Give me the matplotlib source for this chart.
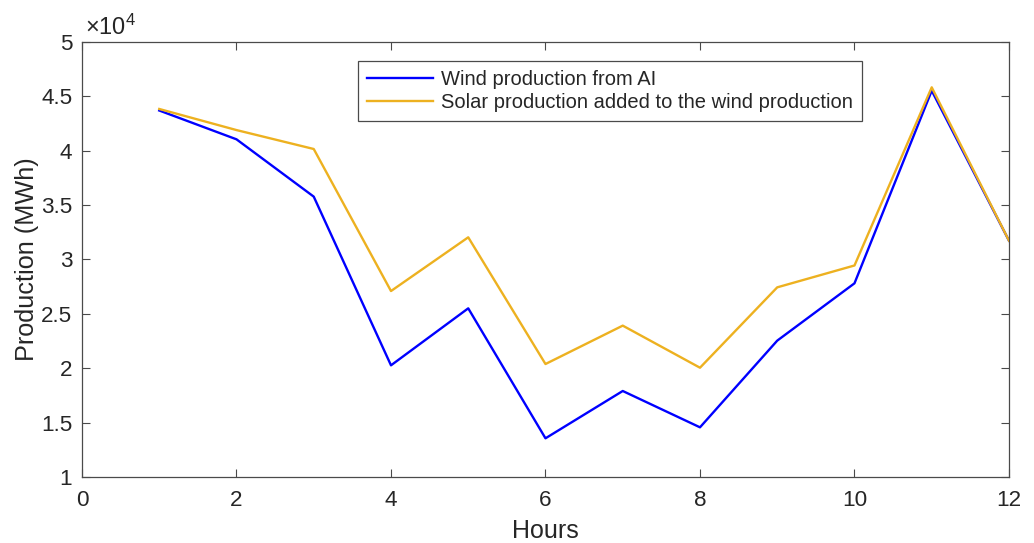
import matplotlib
matplotlib.use("Agg")
import matplotlib.pyplot as plt
from matplotlib.ticker import FuncFormatter, MultipleLocator

plt.rcParams['font.family'] = ['Liberation Sans', 'DejaVu Sans']
plt.rcParams['mathtext.fontset'] = 'custom'
plt.rcParams['mathtext.rm'] = 'Liberation Sans'

hours = [1, 2, 3, 4, 5, 6, 7, 8, 9, 10, 11, 12]
wind = [43700, 41050, 35780, 20270, 25510, 13560, 17910, 14570, 22540, 27810, 45520, 31730]
wind_plus_solar = [43840, 41900, 40160, 27100, 32040, 20390, 23920, 20050, 27440, 29450, 45830, 31730]

labels = ["Wind production from AI", "Solar production added to the wind production"]
x_label = "Hours"
y_label = "Production (MWh)"

axis_grey = "#4a4a4a"
text_grey = "#262626"

fig = plt.figure(figsize=(10.34, 5.43), dpi=100)
ax = fig.add_axes([0.0793, 0.1215, 0.8965, 0.8012])

ax.plot(hours, wind, color=(0, 0, 1), lw=1.7, label=labels[0])
ax.plot(hours, wind_plus_solar, color="#EDB120", lw=1.7, label=labels[1])

ax.set_xlim(0, 12)
ax.set_ylim(1e4, 5e4)
ax.xaxis.set_major_locator(MultipleLocator(2))
ax.yaxis.set_major_locator(MultipleLocator(5000))
ax.yaxis.set_major_formatter(FuncFormatter(lambda v, p: f"{v / 1e4:g}"))

ax.tick_params(direction="in", length=5.8, width=0.8, colors=axis_grey,
               labelcolor=text_grey, labelsize=16.2, top=True, right=True)
ax.tick_params(axis="x", pad=9)
ax.tick_params(axis="y", pad=7)
for s in ax.spines.values():
    s.set_color(axis_grey)
    s.set_linewidth(0.9)

ax.set_xlabel(x_label, fontsize=18, color=text_grey, labelpad=6)
ax.set_ylabel(y_label, fontsize=18.2, color=text_grey, labelpad=1.5)

ax.text(0.003, 1.016, r"$\times\mathregular{10^{4}}$", transform=ax.transAxes,
        fontsize=17, color=text_grey, ha="left", va="baseline")

leg = ax.legend(loc="upper left", bbox_to_anchor=(0.2974, 0.9563), fontsize=14.5,
                frameon=True, fancybox=False, framealpha=1, edgecolor=axis_grey,
                handlelength=3.3, handletextpad=0.4, borderpad=0.45,
                labelspacing=0.18, borderaxespad=0)
leg.get_frame().set_linewidth(0.9)
for t in leg.get_texts():
    t.set_color(text_grey)

fig.savefig("out.png", dpi=100)
